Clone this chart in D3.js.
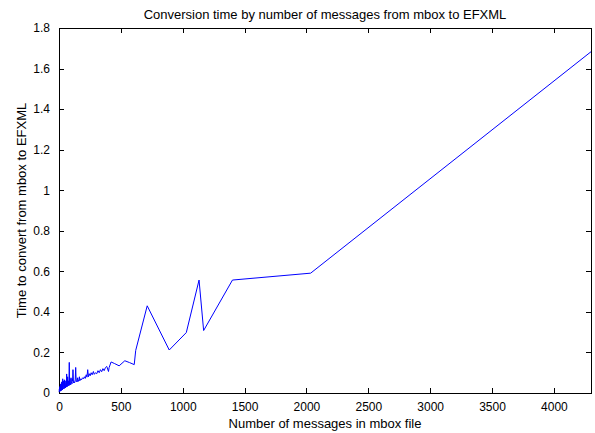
<!DOCTYPE html>
<html><head><meta charset="utf-8">
<script src="https://cdn.jsdelivr.net/npm/d3@7"></script>
<style>
html,body{margin:0;padding:0;background:#fff;}
svg text{font-family:"Liberation Sans",Arial,sans-serif;fill:#000;}
</style></head>
<body><svg id="c" width="595" height="433"></svg>
<script>
const title = "Conversion time by number of messages from mbox to EFXML";
const xLabel = "Number of messages in mbox file";
const yLabel = "Time to convert from mbox to EFXML";
const xTicks = [0,500,1000,1500,2000,2500,3000,3500,4000];
const yTicks = [0,0.2,0.4,0.6,0.8,1,1.2,1.4,1.6,1.8];
const messages = [1,3,5,7,8,10,12,14,15,18,20,22,23,26,28,30,31,34,36,37,40,43,45,46,50,53,56,58,60,62,64,65,68,70,72,76,78,80,83,86,88,90,95,97,100,105,108,110,113,117,122,126,131,135,139,145,150,152,160,165,168,175,182,190,198,205,212,220,226,232,238,245,252,260,268,278,285,295,305,315,325,335,345,355,365,375,386,400,405,421,450,486,532,570,608,620,713,891,1029,1132,1169,1402,2034,4300];
const times = [0.004,0.02,0.012,0.03,0.008,0.035,0.01,0.045,0.015,0.04,0.012,0.055,0.02,0.05,0.015,0.07,0.025,0.02,0.06,0.045,0.02,0.03,0.065,0.025,0.06,0.025,0.035,0.05,0.03,0.094,0.035,0.03,0.04,0.08,0.035,0.06,0.04,0.035,0.151,0.04,0.07,0.05,0.04,0.075,0.055,0.045,0.07,0.06,0.115,0.05,0.055,0.05,0.065,0.126,0.055,0.06,0.075,0.055,0.065,0.08,0.06,0.07,0.065,0.075,0.07,0.08,0.072,0.09,0.078,0.115,0.08,0.095,0.085,0.1,0.09,0.106,0.092,0.1,0.095,0.11,0.1,0.115,0.105,0.12,0.11,0.125,0.131,0.106,0.125,0.153,0.145,0.134,0.159,0.15,0.14,0.21,0.43,0.212,0.298,0.557,0.308,0.557,0.591,1.683];

const L=59, R=591, T=28, B=393;
const svg = d3.select("#c");
const x = d3.scaleLinear().domain([0,4300]).range([L,R]);
const y = d3.scaleLinear().domain([0,1.8]).range([B,T]);

svg.append("rect").attr("x",L).attr("y",T).attr("width",R-L).attr("height",B-T)
  .attr("fill","#fff").attr("stroke","#000").attr("stroke-width",1).attr("shape-rendering","crispEdges");

const tl=5;
svg.append("g").attr("transform",`translate(0,${B})`)
  .call(d3.axisBottom(x).tickValues(xTicks).tickSize(-tl).tickPadding(tl+4).tickFormat(d3.format("d")));
svg.append("g").attr("transform",`translate(0,${T})`)
  .call(d3.axisTop(x).tickValues(xTicks).tickSize(-tl).tickFormat(""));
svg.append("g").attr("transform",`translate(${L},0)`)
  .call(d3.axisLeft(y).tickValues(yTicks).tickSize(-tl).tickPadding(tl+4).tickFormat(d=>String(+d.toFixed(1))));
svg.append("g").attr("transform",`translate(${R},0)`)
  .call(d3.axisRight(y).tickValues(yTicks).tickSize(-tl).tickFormat(""));
svg.selectAll(".domain").remove();
svg.selectAll(".tick line").attr("stroke","#000").attr("shape-rendering","crispEdges");
svg.selectAll(".tick text").style("font-size","12px").style("font-family",'"Liberation Sans",Arial,sans-serif');

const line = d3.line().x((d,i)=>x(messages[i])).y((d,i)=>y(times[i]));
svg.append("path").datum(times).attr("d",line).attr("fill","none").attr("stroke","#0000ff").attr("stroke-width",1);

svg.append("text").attr("x",(L+R)/2).attr("y",19).attr("text-anchor","middle").style("font-size","13px").text(title);
svg.append("text").attr("x",(L+R)/2).attr("y",428).attr("text-anchor","middle").style("font-size","13px").text(xLabel);
svg.append("text").attr("transform",`translate(26,${(T+B)/2}) rotate(-90)`).attr("text-anchor","middle").style("font-size","13px").text(yLabel);
</script></body></html>
